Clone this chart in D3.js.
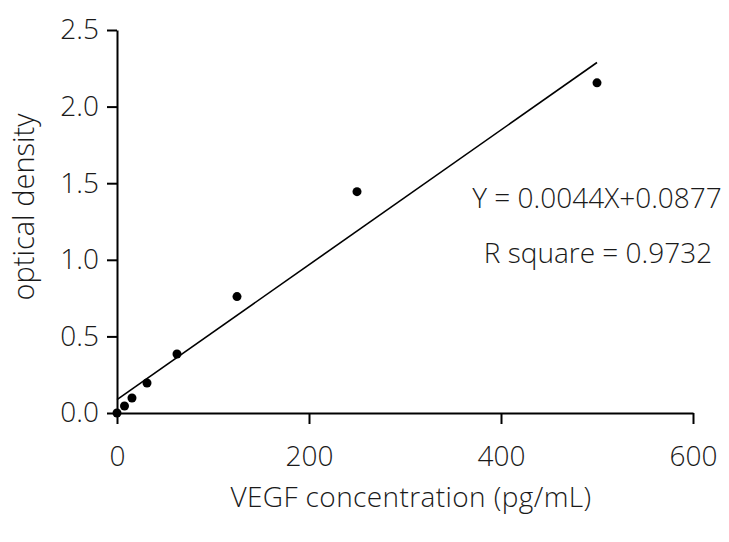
<!DOCTYPE html>
<html><head><meta charset="utf-8">
<script src="https://cdn.jsdelivr.net/npm/d3@7"></script>
<style>
body{margin:0;background:#fff;}
svg text{font-family:"Open Sans","Lato",sans-serif;font-weight:300;fill:#1a1a1a;}
</style></head>
<body><svg id="chart" width="729" height="542"></svg>
<script>
const concentrations = [0, 7.8, 15.6, 31.25, 62.5, 125, 250, 500];
const densities = [0.0, 0.046, 0.098, 0.196, 0.385, 0.76, 1.445, 2.155];
const slope = 0.0044, intercept = 0.0877;
const xTicks = [0, 200, 400, 600];
const yTicks = [0.0, 0.5, 1.0, 1.5, 2.0, 2.5];
const xTitle = "VEGF concentration  (pg/mL)";
const yTitle = "optical density";
const eqText = "Y = 0.0044X+0.0877";
const r2Text = "R square = 0.9732";

const svg = d3.select("#chart");
const x = d3.scaleLinear().domain([0, 600]).range([117, 693]);
const y = d3.scaleLinear().domain([0, 2.5]).range([413, 30]);

const xAxis = svg.append("g").attr("transform", `translate(0,${y(0)})`)
  .call(d3.axisBottom(x).tickValues(xTicks).tickFormat(d3.format("d")).tickSize(11).tickSizeOuter(0).tickPadding(22));
const yAxis = svg.append("g").attr("transform", `translate(${x(0)},0)`)
  .call(d3.axisLeft(y).tickValues(yTicks).tickFormat(d3.format(".1f")).tickSize(10).tickSizeOuter(0).tickPadding(8));
[xAxis, yAxis].forEach(g => {
  g.select(".domain").attr("stroke", "#000").attr("stroke-width", 2);
  g.selectAll(".tick line").attr("stroke", "#000").attr("stroke-width", 2);
  g.selectAll(".tick text").attr("font-size", 28).attr("fill", "#1a1a1a");
});

svg.append("line")
  .attr("x1", x(0)).attr("y1", y(intercept))
  .attr("x2", x(500)).attr("y2", y(slope * 500 + intercept))
  .attr("stroke", "#000").attr("stroke-width", 1.6);

svg.selectAll("circle.pt").data(concentrations).join("circle")
  .attr("class", "pt")
  .attr("cx", (d) => x(d)).attr("cy", (d, i) => y(densities[i]))
  .attr("r", 4.5).attr("fill", "#000");

svg.append("text").attr("x", 411).attr("y", 507).attr("text-anchor", "middle")
  .attr("font-size", 28).attr("letter-spacing", 0.4).text(xTitle);
svg.append("text").attr("transform", "translate(34,207) rotate(-90)").attr("text-anchor", "middle")
  .attr("font-size", 29).text(yTitle);
svg.append("text").attr("x", 597).attr("y", 208).attr("text-anchor", "middle")
  .attr("font-size", 28).text(eqText);
svg.append("text").attr("x", 598).attr("y", 263).attr("text-anchor", "middle")
  .attr("font-size", 28).text(r2Text);
</script></body></html>
